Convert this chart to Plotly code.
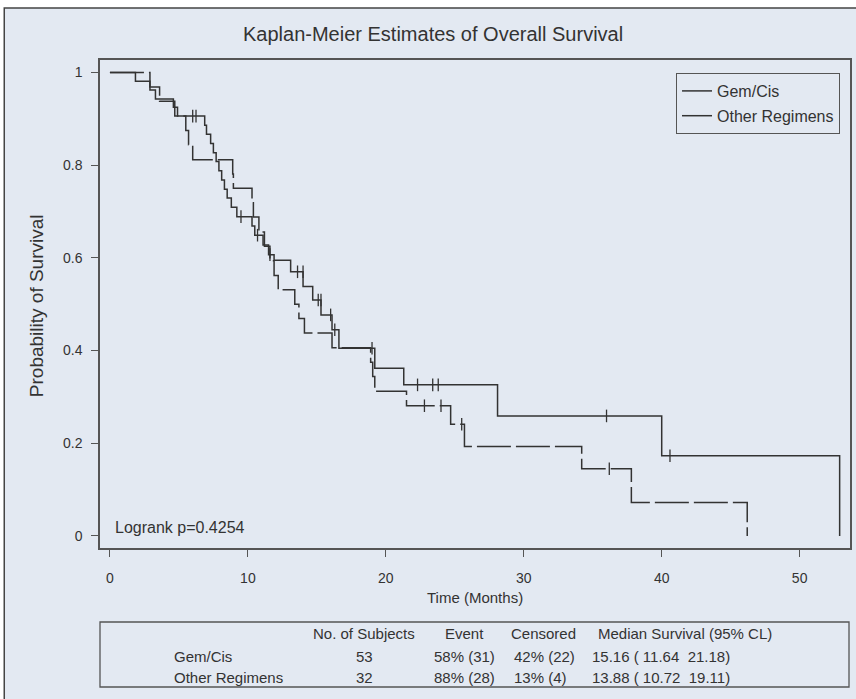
import plotly.graph_objects as go

# ---------------- data ----------------
gem_t = [0, 1.85, 2.9, 3.3, 4.6, 4.9, 6.87, 7.0, 7.3, 7.5, 7.7, 7.9, 8.1, 8.3, 8.5, 8.8, 9.2,
         10.3, 10.5, 11.1, 11.5, 11.9, 13.1, 14.0, 14.7, 15.3, 16.1, 16.6, 19.2, 21.3, 28.1, 40.0, 52.9]
gem_s = [1.0, 0.981, 0.962, 0.943, 0.925, 0.906, 0.886, 0.867, 0.847, 0.827, 0.808, 0.788, 0.768,
         0.748, 0.729, 0.709, 0.689, 0.669, 0.649, 0.628, 0.607, 0.595, 0.570, 0.538, 0.509, 0.477,
         0.445, 0.405, 0.362, 0.326, 0.259, 0.173, 0.0]
gem_cens_t = [6.0, 6.24, 9.5, 10.7, 11.6, 13.6, 14.0, 15.1, 15.3, 16.0, 16.3, 19.0, 22.3, 23.4, 23.8, 36.0, 40.6]
gem_cens_s = [0.906, 0.906, 0.689, 0.649, 0.607, 0.570, 0.570, 0.509, 0.509, 0.477, 0.445, 0.405,
              0.326, 0.326, 0.326, 0.259, 0.173]

oth_t = [0, 2.9, 3.6, 4.7, 5.5, 5.7, 6.0, 8.9, 8.95, 10.3, 10.4, 10.8, 11.2, 11.6, 11.9, 12.2, 13.4,
         13.7, 14.1, 16.1, 18.9, 19.05, 19.2, 21.5, 24.7, 25.7, 34.2, 37.8, 46.2]
oth_s = [1.0, 0.969, 0.938, 0.906, 0.875, 0.844, 0.812, 0.781, 0.750, 0.719, 0.688, 0.656, 0.625,
         0.594, 0.562, 0.531, 0.500, 0.469, 0.438, 0.406, 0.375, 0.344, 0.312, 0.281, 0.241, 0.193,
         0.145, 0.072, 0.0]
oth_cens_t = [22.8, 24.0, 25.5, 36.2]
oth_cens_s = [0.281, 0.281, 0.241, 0.145]

groups = ["Gem/Cis", "Other Regimens"]
n_subjects = ["53", "32"]
events = ["58% (31)", "88% (28)"]
censored = ["42% (22)", "13% (4)"]
median = ["15.16 ( 11.64  21.18)", "13.88 ( 10.72  19.11)"]
table_headers = ["No. of Subjects", "Event", "Censored", "Median Survival (95% CL)"]

x_ticks = [0, 10, 20, 30, 40, 50]
y_ticks = [0, 0.2, 0.4, 0.6, 0.8, 1]
y_tick_text = ["0", "0.2", "0.4", "0.6", "0.8", "1"]

# ---------------- figure ----------------
W, H = 856, 699
L, R, T, B = 100, 4, 60, 151
PW, PH = W - L - R, H - T - B
BG = "#e3e9f2"
INK = "#333333"
AX = "#555555"
FONT = "Liberation Sans, Arial, sans-serif"


def px(x):
    return (x - L) / PW


def py(y):
    return (H - B - y) / PH


def txt(s, x, y, size, anchor="center", angle=0):
    return dict(text=s, xref="paper", yref="paper", x=px(x), y=py(y), xanchor=anchor,
                yanchor="middle", showarrow=False, textangle=angle,
                font=dict(size=size, color=INK, family=FONT))


fig = go.Figure()
fig.add_trace(go.Scatter(x=gem_t, y=gem_s, mode="lines", line_shape="hv", name="Gem/Cis",
                         legendgroup="a", line=dict(color=INK, width=1.5)))
fig.add_trace(go.Scatter(x=oth_t, y=oth_s, mode="lines", line_shape="hv", name="Other Regimens",
                         legendgroup="b", line=dict(color=INK, width=1.5, dash="34px,5px")))
fig.add_trace(go.Scatter(x=gem_cens_t, y=gem_cens_s, mode="markers", showlegend=False,
                         marker=dict(symbol="line-ns-open", size=9, color=INK,
                                     line=dict(color=INK, width=1.3))))
fig.add_trace(go.Scatter(x=oth_cens_t, y=oth_cens_s, mode="markers", showlegend=False,
                         marker=dict(symbol="line-ns-open", size=9, color=INK,
                                     line=dict(color=INK, width=1.3))))

shapes = [
    dict(type="rect", xref="paper", yref="paper", x0=px(4), x1=px(862), y0=py(706), y1=py(8),
         fillcolor=BG, line=dict(color="#444444", width=1.5), layer="below"),
    dict(type="rect", xref="paper", yref="paper", x0=px(100), x1=px(851), y0=py(687), y1=py(622),
         fillcolor="rgba(0,0,0,0)", line=dict(color=AX, width=1.3)),
]

ann = [
    txt("Kaplan-Meier Estimates of Overall Survival", 434, 34, 20),
    txt("Logrank p=0.4254", 113, 527, 16, "left"),
    txt("Time (Months)", 476, 597, 15),
    txt("Probability of Survival", 36, 306, 19, angle=-90),
]

hdr_x = [365, 465, 545, 687]
for h, x in zip(table_headers, hdr_x):
    ann.append(txt(h, x, 633, 15))
row_y = [656, 677]
for i in range(2):
    yy = row_y[i]
    ann.append(txt(groups[i], 172, yy, 15, "left"))
    ann.append(txt(n_subjects[i], 365, yy, 15))
    ann.append(txt(events[i], 433, yy, 15, "left"))
    ann.append(txt(censored[i], 513, yy, 15, "left"))
    ann.append(txt(median[i].replace("  ", "&nbsp;&nbsp;"), 591, yy, 15, "left"))

axis_common = dict(showline=True, linecolor=AX, linewidth=1.5, mirror=True, ticks="outside",
                   ticklen=7, tickcolor=AX, tickwidth=1.3, showgrid=False, zeroline=False,
                   tickfont=dict(size=14, color=INK, family=FONT))

fig.update_layout(
    width=W, height=H,
    margin=dict(l=L, r=R, t=T, b=B, pad=0),
    paper_bgcolor="white", plot_bgcolor=BG,
    font=dict(family=FONT, color=INK),
    shapes=shapes, annotations=ann,
    xaxis=dict(range=[-0.72, 53.65], tickvals=x_ticks, ticklabelstandoff=9, **axis_common),
    yaxis=dict(range=[-0.026, 1.027], tickvals=y_ticks, ticktext=y_tick_text,
               ticklabelstandoff=6, **axis_common),
    legend=dict(x=px(842), y=py(73), xanchor="right", yanchor="top", bgcolor=BG,
                bordercolor=AX, borderwidth=1, font=dict(size=16, color=INK, family=FONT),
                tracegroupgap=1),
    showlegend=True,
)

fig.write_html("out.html", config={"displayModeBar": False},
               post_script="document.body.style.margin='0';")
